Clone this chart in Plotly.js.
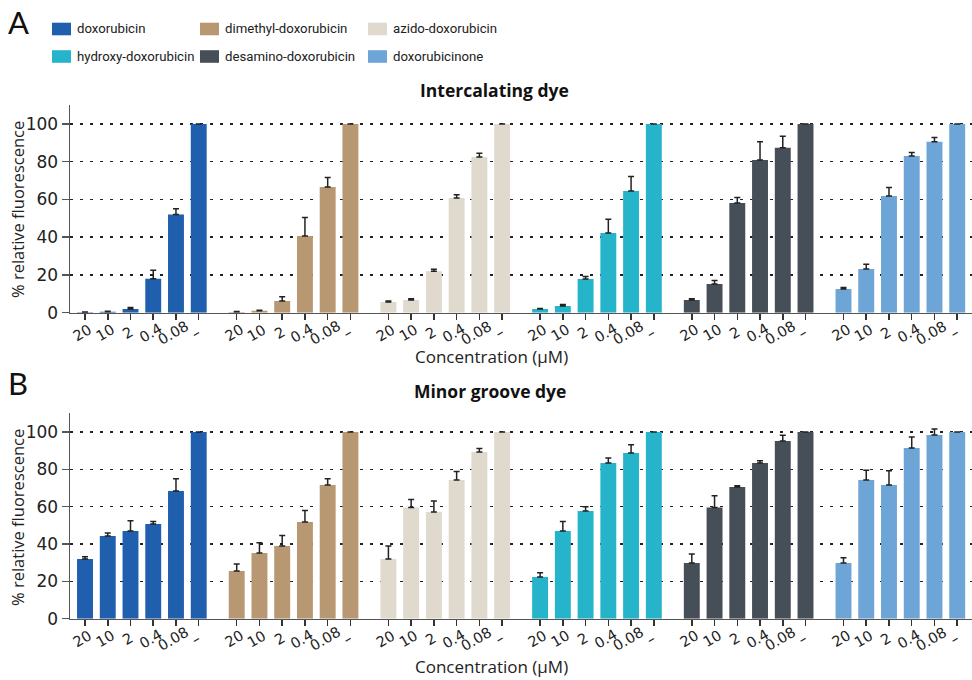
<!DOCTYPE html>
<html>
<head>
<meta charset="utf-8">
<script src="https://cdn.plot.ly/plotly-3.0.1.min.js"></script>
<style>html,body{margin:0;padding:0;background:#fff}#chart{width:972px;height:680px}</style>
</head>
<body>
<div id="chart"></div>
<script>
// ---- data ----
const compounds = ["doxorubicin","dimethyl-doxorubicin","azido-doxorubicin","hydroxy-doxorubicin","desamino-doxorubicin","doxorubicinone"];
const colors = ["#1f5fae","#b89872","#e0d9ce","#26b4cb","#464e57","#6ea5d7"];
const concLabels = ["20","10","2","0.4","0.08","–"];

// Panel A: Intercalating dye
const intercalating = [
  [0.2, 0.5, 2.0, 18.0, 52.0, 100],
  [0.4, 1.0, 6.2, 40.6, 66.6, 100],
  [5.7, 6.7, 22.0, 60.8, 82.5, 100],
  [1.9, 3.5, 17.8, 42.2, 64.5, 100],
  [6.7, 15.2, 58.1, 80.9, 87.3, 100],
  [12.5, 23.1, 61.8, 83.0, 90.5, 100]
];
const intercalatingErr = [
  [0.2, 0.3, 0.7, 4.5, 3.0, 0],
  [0.3, 0.3, 2.3, 9.8, 5.0, 0],
  [0.5, 0.7, 1.0, 1.7, 2.0, 0],
  [0.3, 0.9, 1.4, 7.3, 7.6, 0],
  [0.7, 1.8, 2.9, 9.7, 6.2, 0],
  [0.8, 2.5, 4.5, 1.8, 2.3, 0]
];
// Panel B: Minor groove dye
const minorGroove = [
  [32.0, 44.3, 47.0, 50.7, 68.4, 100],
  [25.5, 35.2, 38.9, 51.8, 71.6, 100],
  [32.0, 59.5, 57.1, 74.3, 89.3, 100],
  [22.3, 47.0, 57.7, 83.4, 88.8, 100],
  [29.8, 59.5, 70.5, 83.4, 95.2, 100],
  [29.8, 74.3, 71.6, 91.4, 98.4, 100]
];
const minorGrooveErr = [
  [1.2, 1.6, 5.5, 1.4, 6.6, 0],
  [3.8, 5.5, 5.7, 6.2, 3.4, 0],
  [6.9, 4.4, 5.9, 4.5, 1.8, 0],
  [2.3, 5.0, 2.3, 2.7, 4.4, 0],
  [4.8, 6.4, 0.7, 1.2, 3.0, 0],
  [2.9, 5.2, 7.7, 5.9, 3.2, 0]
];
const yTicks = [0, 20, 40, 60, 80, 100];

// ---- layout helpers ----
const groupStep = 6.67;
const FONT = "'Open Sans', sans-serif";
const TFONT = "'DejaVu Sans', sans-serif";
const LFONT = "Roboto, sans-serif";
const W = 972, H = 680, ML = 70;
const px2x = p => (p - ML) / (W - ML);
const py2y = p => 1 - p / H;
const axisPx = [312.7, 618.7];

const xPos = [], xText = [];
compounds.forEach((c, g) => concLabels.forEach((l, i) => { xPos.push(g * groupStep + i); xText.push(l); }));

const traces = [];
[[intercalating, intercalatingErr, "x", "y"], [minorGroove, minorGrooveErr, "x2", "y2"]].forEach(([vals, errs, xa, ya], p) => {
  compounds.forEach((name, g) => {
    traces.push({
      type: "bar",
      name: name,
      x: concLabels.map((l, i) => g * groupStep + i),
      y: vals[g],
      width: 0.7,
      marker: {color: colors[g], line: {width: 0}},
      error_y: {type: "data", symmetric: false, array: errs[g], arrayminus: errs[g].map(() => 0),
                color: "#222", thickness: 1.5, width: 3},
      xaxis: xa, yaxis: ya,
      showlegend: false,
      hoverinfo: "skip"
    });
  });
});

const xaxisBase = {
  range: [-0.66, 39.0], tickmode: "array", tickvals: xPos, ticktext: xText, showticklabels: false,
  ticks: "outside", ticklen: 6, tickwidth: 1.5, tickcolor: "#333",
  showline: true, linecolor: "#555", linewidth: 1.5, showgrid: false, zeroline: false, fixedrange: true
};
const yaxisBase = {
  range: [0, 110], tickmode: "array", tickvals: yTicks,
  ticks: "outside", ticklen: 7, tickwidth: 1.5, tickcolor: "#555",
  showline: true, linecolor: "#555", linewidth: 1.5,
  showgrid: true, gridcolor: "#222", gridwidth: 1.4, griddash: "3px,7px", zeroline: false,
  tickfont: {family: TFONT, size: 17, color: "#222"}, fixedrange: true
};

const shapes = [], annotations = [];

// rotated category labels under each tick, placed through the x axes
["x", "x2"].forEach((xr, p) => {
  xPos.forEach((v, k) => {
    annotations.push({text: xText[k], x: v, xref: xr, y: py2y(axisPx[p] + 20), yref: "paper",
      xanchor: "center", yanchor: "middle", xshift: -3, textangle: -30, showarrow: false,
      font: {family: TFONT, size: 14.5, color: "#222"}});
  });
});

// legend (3 columns x 2 rows), built from compounds/colors
const legCols = [52, 200, 368];
const legRows = [29, 56.5];
compounds.forEach((name, k) => {
  const c = k % 3, r = Math.floor(k / 3);
  const x0 = legCols[c], yc = legRows[r];
  shapes.push({type: "rect", xref: "paper", yref: "paper", x0: px2x(x0), x1: px2x(x0 + 19),
    y0: py2y(yc + 6.3), y1: py2y(yc - 6.3), fillcolor: colors[k], line: {width: 0}});
  annotations.push({text: name, x: px2x(x0 + 23), y: py2y(yc), xref: "paper", yref: "paper",
    xanchor: "left", yanchor: "middle", showarrow: false, font: {family: LFONT, size: 13.2, color: "#222"}});
});

const t = (text, x, y, size, extra) => Object.assign({text, x: px2x(x), y: py2y(y), xref: "paper", yref: "paper",
  xanchor: "center", yanchor: "middle", showarrow: false, font: {family: FONT, size, color: "#222"}}, extra || {});
annotations.push(
  t("A", 6, 22, 30, {xanchor: "left", font: {family: "Lato, sans-serif", size: 31, color: "#111"}}),
  t("B", 6, 383, 30, {xanchor: "left", font: {family: "Lato, sans-serif", size: 31, color: "#111"}}),
  t("<b>Intercalating dye</b>", 494, 90, 17.5, {font: {family: FONT, size: 17.5, color: "#111"}}),
  t("<b>Minor groove dye</b>", 490, 391, 17.5, {font: {family: FONT, size: 17.5, color: "#111"}}),
  t("Concentration (µM)", 491, 356, 17),
  t("Concentration (µM)", 491, 666, 17),
  t("% relative fluorescence", 17, 210, 16.5, {textangle: -90}),
  t("% relative fluorescence", 17, 518, 16.5, {textangle: -90})
);

const layout = {
  width: W, height: H,
  margin: {l: ML, r: 0, t: 0, b: 0},
  paper_bgcolor: "#fff", plot_bgcolor: "#fff",
  barmode: "overlay",
  showlegend: false,
  font: {family: FONT, color: "#222"},
  xaxis: Object.assign({}, xaxisBase, {anchor: "y"}),
  yaxis: Object.assign({}, yaxisBase, {domain: [py2y(axisPx[0]), py2y(105)], anchor: "x"}),
  xaxis2: Object.assign({}, xaxisBase, {anchor: "y2"}),
  yaxis2: Object.assign({}, yaxisBase, {domain: [py2y(axisPx[1]), py2y(413.3)], anchor: "x2"}),
  shapes, annotations
};

Plotly.newPlot("chart", traces, layout, {displayModeBar: false, staticPlot: true});
</script>
</body>
</html>
